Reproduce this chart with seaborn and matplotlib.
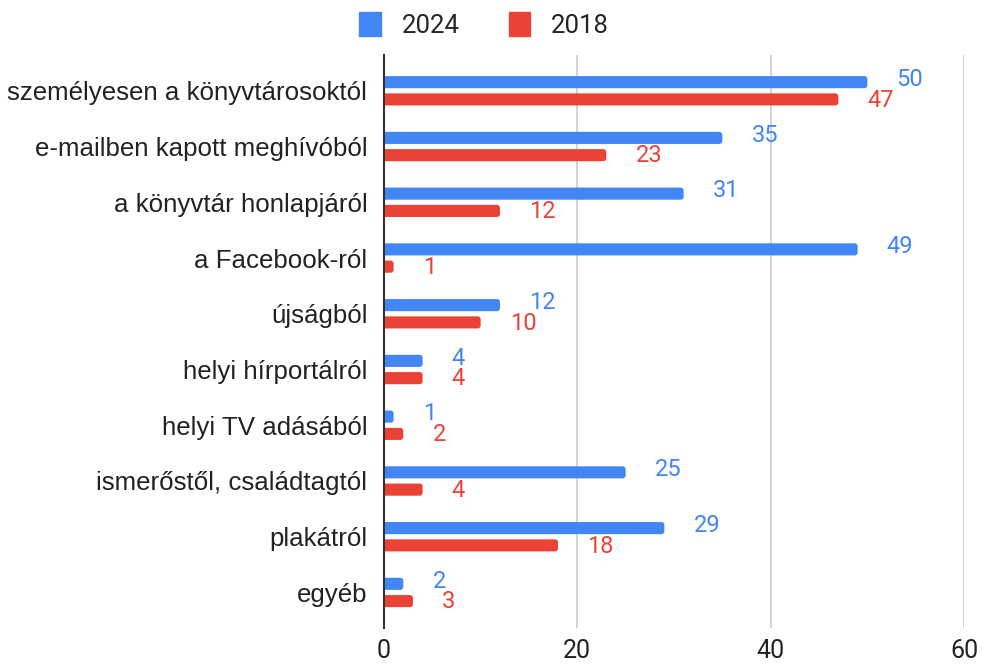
import matplotlib
matplotlib.use("Agg")
import matplotlib.pyplot as plt
import seaborn as sns
import pandas as pd
from matplotlib.patches import Patch, FancyBboxPatch

categories = ["személyesen a könyvtárosoktól", "e-mailben kapott meghívóból",
              "a könyvtár honlapjáról", "a Facebook-ról", "újságból",
              "helyi hírportálról", "helyi TV adásából",
              "ismerőstől, családtagtól", "plakátról", "egyéb"]
values_2024 = [50, 35, 31, 49, 12, 4, 1, 25, 29, 2]
values_2018 = [47, 23, 12, 1, 10, 4, 2, 4, 18, 3]
series = ["2024", "2018"]
colors = ["#4285F4", "#EA4335"]
xticks = [0, 20, 40, 60]

df = pd.DataFrame({
    "cat": categories * 2,
    "val": values_2024 + values_2018,
    "year": [series[0]] * len(categories) + [series[1]] * len(categories),
})

sns.set_theme(style="white")
plt.rcParams["font.family"] = ["Roboto", "DejaVu Sans"]

fig = plt.figure(figsize=(9.82, 6.64), dpi=100)
ax = fig.add_axes([0.391, 0.054, 0.5907, 0.863])

sns.barplot(data=df, y="cat", x="val", hue="year", orient="h",
            palette=colors, width=0.62, gap=0.3, ax=ax,
            saturation=1, legend=False, errorbar=None)

ax.set_xlim(0, 60)
ax.set_ylim(9.64, -0.64)
ax.set_xticks(xticks)
ax.set_xticklabels([str(t) for t in xticks], fontsize=18, color="#222222")
ax.tick_params(axis="y", length=0, pad=12)
ax.tick_params(axis="x", length=0, pad=8)
ax.set_xlabel("")
ax.set_ylabel("")
for t in ax.get_yticklabels():
    t.set_color("#222222")
    t.set_fontfamily(["Liberation Sans", "DejaVu Sans"])
    t.set_fontsize(18.6)

for s in ["top", "right", "bottom"]:
    ax.spines[s].set_visible(False)
ax.spines["left"].set_color("#333333")
ax.spines["left"].set_linewidth(1.5)
ax.spines["left"].set_zorder(5)
ax.set_axisbelow(True)
ax.xaxis.grid(True, color="#cccccc", linewidth=1.2)

# rounded bar ends
for cont, col in zip(ax.containers, colors):
    for patch in cont.patches:
        x0, y0 = patch.get_x(), patch.get_y()
        w, h = patch.get_width(), patch.get_height()
        patch.set_visible(False)
        fb = FancyBboxPatch((x0 - 1, y0), w + 1, h,
                            boxstyle="round,pad=0,rounding_size=0.3",
                            mutation_aspect=0.18, facecolor=col,
                            edgecolor="none", zorder=2)
        ax.add_patch(fb)

for i, (cont, col) in enumerate(zip(ax.containers, colors)):
    dy = 2 if i == 0 else -0.5
    for patch in cont.patches:
        w = patch.get_width()
        yc = patch.get_y() + patch.get_height() / 2
        ax.annotate(f"{w:g}", xy=(w, yc), xytext=(21, dy),
                    textcoords="offset points", ha="left", va="center",
                    fontsize=17, color=col)

handles = [Patch(facecolor=c, edgecolor=c) for c in colors]
fig.legend(handles, series, loc="center", bbox_to_anchor=(0.493, 0.962),
           ncol=2, frameon=False, fontsize=18.5, handlelength=0.85,
           handleheight=1.05, columnspacing=1.9, handletextpad=0.8)

fig.savefig("out.png", dpi=100, facecolor="white")
